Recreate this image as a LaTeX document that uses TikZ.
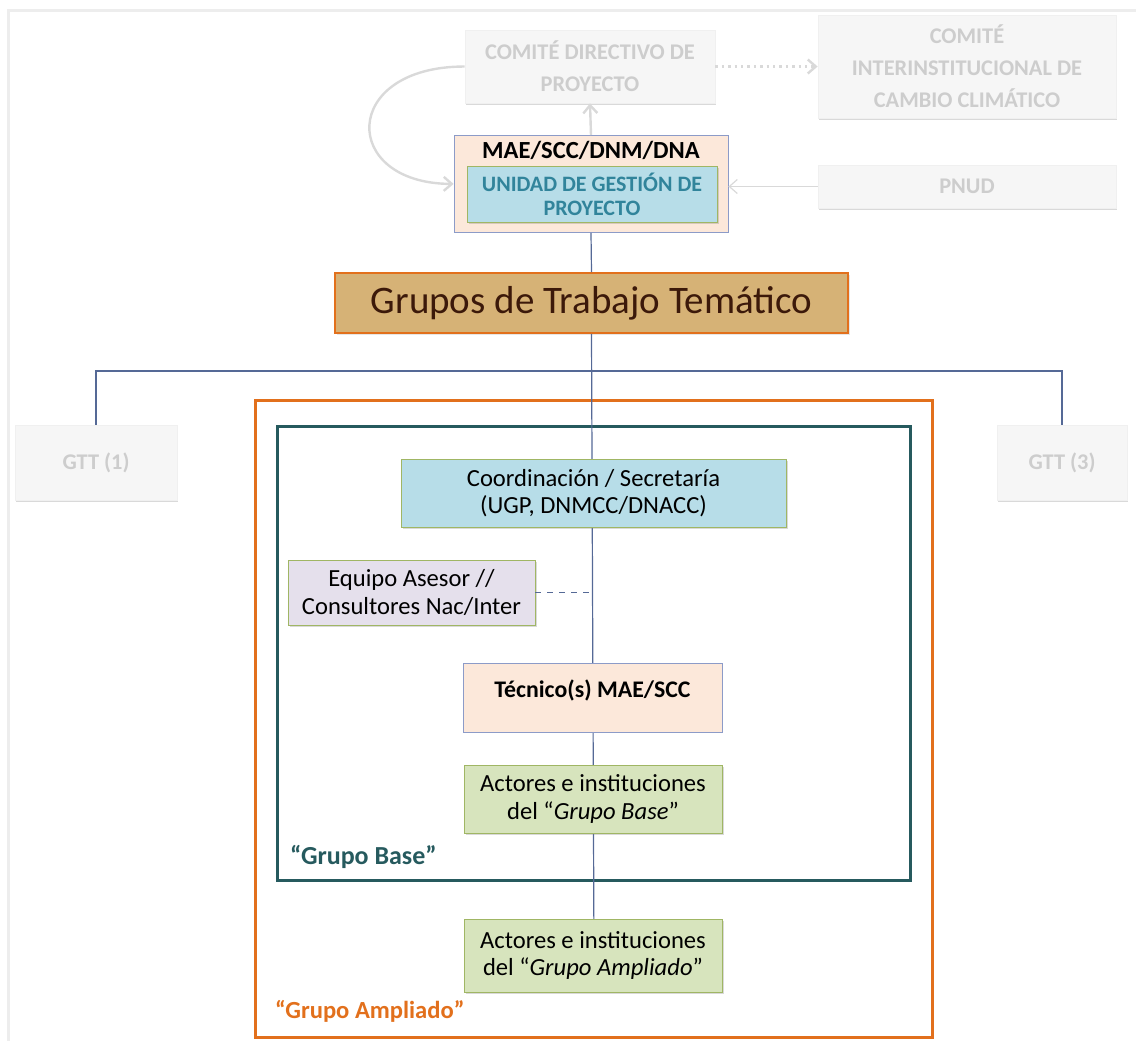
\documentclass[tikz,border=0pt]{standalone}
\usepackage{fontspec}
\setmainfont{Carlito}
\usetikzlibrary{shadows,arrows.meta}

\definecolor{peach}{RGB}{252,232,218}
\definecolor{lightblue}{RGB}{183,221,232}
\definecolor{lavender}{RGB}{229,224,236}
\definecolor{lightgreen}{RGB}{215,228,189}
\definecolor{olive}{RGB}{160,182,100}
\definecolor{bluegray}{RGB}{140,155,200}
\definecolor{linecol}{RGB}{85,105,150}
\definecolor{ugptext}{RGB}{49,132,155}
\definecolor{tan}{RGB}{214,178,118}
\definecolor{orangeframe}{RGB}{226,112,28}
\definecolor{tealframe}{RGB}{38,90,94}
\definecolor{fadedtext}{RGB}{205,205,205}
\definecolor{fadedfill}{RGB}{246,246,246}
\definecolor{grupostext}{RGB}{60,25,10}

\tikzset{
  faded/.style={draw=black!6,fill=fadedfill,text=fadedtext,font=\fontsize{11.2}{16}\selectfont\bfseries,
    align=center,drop shadow={opacity=0.3,shadow xshift=0.6pt,shadow yshift=-1.2pt}},
  softbox/.style={draw=olive,align=center,font=\fontsize{12.3}{13.8}\selectfont,
    drop shadow={opacity=0.3,shadow xshift=0.8pt,shadow yshift=-1.2pt}},
  peachbox/.style={draw=bluegray,fill=peach,align=center},
  mainline/.style={draw=linecol,line width=0.6pt},
  fadedarrow/.style={draw=black!15,-{Straight Barb[length=4pt,width=7pt]}}
}

\begin{document}
\begin{tikzpicture}[x=0.5pt,y=-0.5pt]
\useasboundingbox (0,0) rectangle (1136,1041);
\draw[black!7,line width=1.5pt] (8,1041) -- (8,10) -- (1136,10);

% faded upper boxes
\node[faded,minimum width=125pt,minimum height=36.5pt] (cdp) at (590,66.5) {COMITÉ DIRECTIVO DE\\PROYECTO};
\node[faded,minimum width=149pt,minimum height=51.5pt] (cii) at (967,66.5) {COMITÉ\\INTERINSTITUCIONAL DE\\CAMBIO CLIMÁTICO};
\node[faded,minimum width=149pt,minimum height=21.5pt] (pnud) at (967,186.5) {PNUD};

% project management
\node[peachbox,anchor=north,minimum width=137pt,inner ysep=3pt,text height=8.5pt,text depth=34pt,
  font=\fontsize{12.3}{14}\selectfont\bfseries] (mae) at (591,135) {MAE/SCC/DNM/DNA};
\node[softbox,fill=lightblue,text=ugptext,minimum width=125pt,minimum height=26pt,
  font=\fontsize{11}{12}\selectfont\bfseries] (ugp) at (592,194) {UNIDAD DE GESTIÓN DE\\PROYECTO};

\draw[fadedarrow,line width=1.2pt] (cdp.west) .. controls (340,66.5) and (340,183.5) .. (mae.west);
\draw[fadedarrow,line width=1.2pt] (mae.north) -- (cdp.south);
\draw[fadedarrow,line width=1.2pt,dotted] (cdp.east) -- (cdp.east -| cii.west);
\draw[fadedarrow,line width=0.6pt] (pnud.west) -- (pnud.west -| mae.east);

% thematic groups
\node[draw=orangeframe,fill=tan,line width=0.8pt,minimum width=256.5pt,minimum height=30pt,
  text=grupostext,font=\fontsize{19.5}{21}\selectfont,
  drop shadow={opacity=0.2,shadow xshift=0.8pt,shadow yshift=-1pt}] (grupos) at (591.5,303) {Grupos de Trabajo Temático};
\node[faded,minimum width=81pt,minimum height=37.5pt] (gtt1) at (96,462.5) {GTT (1)};
\node[faded,minimum width=65pt,minimum height=37.5pt] (gtt3) at (1062,462.5) {GTT (3)};
\coordinate (branch) at (594,371);

% frames
\draw[orangeframe,line width=1.5pt] (255,400) rectangle (932,1037);
\draw[tealframe,line width=1.5pt] (277,426) rectangle (910,880);

\draw[mainline] (mae.south) -- (grupos.north);
\draw[mainline] (grupos.south) -- (594,955);
\draw[mainline] (gtt1.north) |- (branch) -| (gtt3.north);

% inner boxes
\node[softbox,fill=lightblue,minimum width=192.5pt,minimum height=34pt] (coord) at (593.5,493) {Coordinación / Secretaría\\(UGP, DNMCC/DNACC)};
\node[softbox,fill=lavender,minimum width=123.5pt,minimum height=32.5pt] (asesor) at (411.5,592.5) {Equipo Asesor //\\Consultores Nac/Inter};
\node[peachbox,anchor=north,minimum width=129.5pt,inner ysep=3pt,text height=14pt,text depth=14.5pt,
  font=\fontsize{11.9}{13}\selectfont\bfseries] (tec) at (592.5,663) {Técnico(s) MAE/SCC};
\node[softbox,fill=lightgreen,minimum width=129pt,minimum height=34pt] (base) at (593,799) {Actores e instituciones\\del “\textit{Grupo Base}”};
\node[softbox,fill=lightgreen,minimum width=129pt,minimum height=36.5pt] (ampl) at (593,955.5) {Actores e instituciones\\del “\textit{Grupo Ampliado}”};

\draw[draw=linecol,dashed,line width=0.6pt] (asesor.east) -- (asesor.east -| coord.south);

\node[anchor=west,text=tealframe,font=\fontsize{13}{15}\selectfont\bfseries] (lbase) at (283,857) {“Grupo Base”};
\node[anchor=west,text=orangeframe,font=\fontsize{12.3}{14}\selectfont\bfseries] (lampl) at (268,1011) {“Grupo Ampliado”};
\end{tikzpicture}
\end{document}
